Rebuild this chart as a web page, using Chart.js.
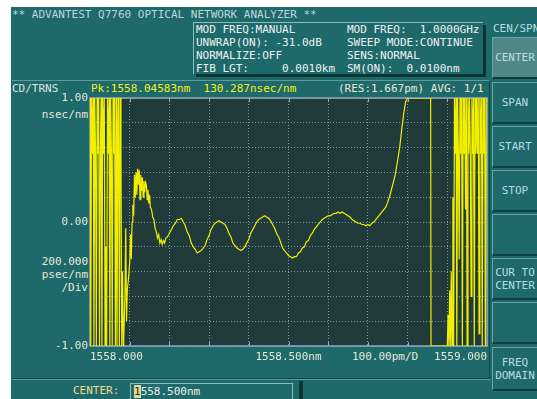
<!DOCTYPE html>
<html><head><meta charset="utf-8">
<script src="https://cdn.jsdelivr.net/npm/chart.js@4.4.1/dist/chart.umd.min.js"></script>
<style>
html,body{margin:0;padding:0;background:#fff;width:537px;height:399px;overflow:hidden;}
body{position:relative;font-family:"DejaVu Sans Mono",monospace;font-size:11px;}
#panel{position:absolute;left:11px;top:7px;width:526px;height:392px;background:#1e6969;}
.t{position:absolute;white-space:pre;line-height:13px;}
#info{position:absolute;left:193px;top:22px;width:289px;height:51px;border-top:1px solid #8cbcbc;border-left:1px solid #8cbcbc;box-shadow:3px 3px 0 #0e3333;}
#frame{position:absolute;left:12px;top:80px;width:477px;height:298px;border-top:1px solid #5c9a9a;border-right:1px solid #0f4444;}
.btn{position:absolute;left:492px;width:45px;border-top:1px solid #6aa5a5;border-left:1px solid #6aa5a5;border-bottom:2px solid #0e3c3c;color:#b8dce0;text-align:center;display:flex;align-items:center;justify-content:center;line-height:13px;white-space:pre;box-sizing:border-box;}
#sep1{position:absolute;left:12px;top:378px;width:478px;height:1px;background:#0f4646;}
#sep2{position:absolute;left:12px;top:379px;width:478px;height:1px;background:#5c9a9a;}
#inbox{position:absolute;left:130px;top:383px;width:163px;height:18px;border:1px solid #8cbcbc;box-sizing:border-box;}
#inshadow{position:absolute;left:299px;top:381px;width:4px;height:18px;background:#0e3333;}
#chart{position:absolute;left:12px;top:88px;}
</style>
</head><body>
<div id="panel"></div>
<div class="t" style="left:12px;top:8px;color:#bcd6dc;">** ADVANTEST Q7760 OPTICAL NETWORK ANALYZER **</div>
<div id="info"></div>
<div class="t" style="left:196px;top:23px;color:#eef2f2;">MOD FREQ:MANUAL
UNWRAP(ON): -31.0dB
NORMALIZE:OFF
FIB LGT:     0.0010km</div>
<div class="t" style="left:347px;top:23px;color:#eef2f2;">MOD FREQ:  1.0000GHz
SWEEP MODE:CONTINUE
SENS:NORMAL
SM(ON):  0.0100nm</div>
<div class="t" style="left:493px;top:22px;color:#b8dce0;">CEN/SPN</div>
<div class="btn" style="top:37px;height:42px;background:#4f8787;">CENTER</div>
<div class="btn" style="top:82px;height:42px;">SPAN</div>
<div class="btn" style="top:126px;height:42px;">START</div>
<div class="btn" style="top:170px;height:42px;">STOP</div>
<div class="btn" style="top:214px;height:42px;"></div>
<div class="btn" style="top:258px;height:42px;">CUR TO
CENTER</div>
<div class="btn" style="top:302px;height:42px;"></div>
<div class="btn" style="top:347px;height:44px;">FREQ
DOMAIN</div>
<div id="frame"></div>
<div class="t" style="left:12px;top:82px;color:#dde4e4;">CD/TRNS</div>
<div class="t" style="left:91px;top:82px;color:#f4f020;">Pk:1558.04583nm  130.287nsec/nm</div>
<div class="t" style="left:338px;top:82px;color:#e8e8d8;">(RES:1.667pm) AVG: 1/1</div>
<div class="t" style="left:0;width:88px;text-align:right;top:108px;color:#e8e8d8;">nsec/nm</div>
<div class="t" style="left:0;width:88px;text-align:right;top:255px;color:#e8e8d8;">200.000
psec/nm
/Div</div>
<div class="t" style="left:352px;top:350px;color:#e8e8d8;">100.00pm/D</div>
<div id="sep1"></div><div id="sep2"></div>
<div class="t" style="left:73px;top:384px;color:#e6dc96;">CENTER:</div>
<div id="inbox"></div><div id="inshadow"></div>
<div class="t" style="left:134px;top:385px;color:#eef2f2;"><span style="background:#e6d890;color:#1e3030;">1</span>558.500nm</div>
<canvas id="chart" width="480" height="287" style="width:480px;height:287px;"></canvas>
<script>
const leftNoiseNm = [
 1558.000,1558.002,1558.004,1558.006,1558.008,1558.010,1558.012,1558.014,1558.016,1558.018,
 1558.020,1558.022,1558.024,1558.026,1558.028,1558.030,1558.032,1558.034,1558.036,1558.038,
 1558.040,1558.042,1558.044,1558.046,1558.048,1558.050,1558.052,1558.054,1558.056,1558.058,
 1558.060,1558.062,1558.064,1558.066,1558.068,1558.070,1558.072,1558.074,1558.076,1558.078,
 1558.080,1558.082,1558.084];
const leftNoiseCd = [
 1.00,-1.00,1.00,0.55,1.00,-1.00,1.00,0.55,-1.00,1.00,
 0.55,1.00,-1.00,0.55,1.00,-1.00,1.00,0.55,1.00,-1.00,
 -0.20,-1.00,1.00,0.55,1.00,-1.00,1.00,0.55,-1.00,1.00,
 0.55,1.00,-1.00,1.00,-1.00,0.55,1.00,-1.00,1.00,0.55,
 -1.00,-0.40,-1.00];
const peakNm = [
 1558.085,1558.088,1558.090,1558.092,1558.094,1558.097,1558.100,1558.102,1558.104,1558.106,
 1558.108,1558.110,1558.112,1558.114,1558.116,1558.118,1558.120,1558.122,1558.124,1558.126,
 1558.128,1558.130,1558.132,1558.134,1558.136,1558.138,1558.140,1558.142,1558.144,1558.146,
 1558.148,1558.150,1558.152,1558.155,1558.158,1558.161,1558.164,1558.167,1558.170,1558.173,
 1558.176,1558.179,1558.182,1558.185,1558.188,1558.191,1558.195];
const peakCd = [
 -0.95,-0.60,-0.05,-0.80,-0.55,-0.45,-0.33,-0.10,-0.30,0.00,
 0.14,0.05,0.38,0.20,0.40,0.22,0.43,0.30,0.42,0.18,
 0.38,0.25,0.36,0.20,0.33,0.24,0.32,0.30,0.18,0.26,
 0.15,0.22,0.12,0.10,0.04,0.02,-0.05,-0.08,-0.13,-0.10,
 -0.17,-0.14,-0.18,-0.15,-0.17,-0.13,-0.12];
const rippleNm = [
 1558.200,1558.205,1558.210,1558.215,1558.220,1558.225,1558.230,1558.235,1558.240,1558.245,
 1558.250,1558.255,1558.260,1558.265,1558.270,1558.275,1558.280,1558.285,1558.290,1558.295,
 1558.300,1558.305,1558.310,1558.315,1558.320,1558.325,1558.330,1558.335,1558.340,1558.345,
 1558.350,1558.355,1558.360,1558.365,1558.370,1558.375,1558.380,1558.385,1558.390,1558.395,
 1558.400,1558.405,1558.410,1558.415,1558.420,1558.425,1558.430,1558.435,1558.440,1558.445,
 1558.450,1558.455,1558.460,1558.465,1558.470,1558.475,1558.480,1558.485,1558.490,1558.495,
 1558.500,1558.505,1558.510,1558.515,1558.520,1558.525,1558.530,1558.535,1558.540,1558.545,
 1558.550,1558.555,1558.560,1558.565,1558.570,1558.575,1558.580,1558.585,1558.590,1558.595,
 1558.600,1558.605,1558.610,1558.615,1558.620,1558.625,1558.630,1558.635,1558.640,1558.645,
 1558.650,1558.655,1558.660,1558.665,1558.670,1558.675,1558.680,1558.685,1558.690,1558.695,
 1558.700,1558.705,1558.710,1558.715,1558.720,1558.725,1558.730,1558.735,1558.740,1558.745,
 1558.750,1558.755,1558.760,1558.765,1558.770,1558.775,1558.780,1558.785,1558.790,1558.795,
 1558.800,1558.810,1558.830,1558.858,1558.859,1558.900];
const rippleCd = [
 -0.09,-0.06,-0.03,-0.01,0.02,0.02,0.03,0.00,-0.03,-0.08,
 -0.11,-0.17,-0.20,-0.22,-0.25,-0.24,-0.23,-0.21,-0.19,-0.14,
 -0.11,-0.06,-0.03,-0.01,0.00,0.01,0.00,-0.01,-0.02,-0.05,
 -0.09,-0.12,-0.17,-0.19,-0.21,-0.22,-0.23,-0.22,-0.20,-0.17,
 -0.14,-0.09,-0.06,-0.03,0.00,0.02,0.03,0.04,0.05,0.04,
 0.03,0.01,-0.02,-0.05,-0.09,-0.12,-0.16,-0.21,-0.23,-0.25,
 -0.27,-0.28,-0.29,-0.28,-0.28,-0.25,-0.24,-0.21,-0.20,-0.16,
 -0.15,-0.11,-0.09,-0.06,-0.04,-0.02,0.00,0.02,0.03,0.04,
 0.05,0.05,0.06,0.07,0.07,0.08,0.07,0.08,0.07,0.06,
 0.05,0.04,0.02,0.01,0.00,-0.01,-0.01,-0.02,-0.02,-0.03,
 -0.02,-0.03,-0.01,0.00,0.02,0.04,0.06,0.08,0.10,0.12,
 0.16,0.21,0.27,0.33,0.40,0.50,0.60,0.74,0.87,0.97,
 1.00,1.00,1.00,1.00,-1.00,-1.00];
const rightNoiseNm = [
 1558.902,1558.904,1558.906,1558.908,1558.910,1558.912,1558.914,1558.916,1558.918,1558.920,
 1558.922,1558.924,1558.926,1558.928,1558.930,1558.932,1558.934,1558.936,1558.938,1558.940,
 1558.942,1558.944,1558.946,1558.948,1558.950,1558.952,1558.954,1558.956,1558.958,1558.960,
 1558.962,1558.964,1558.966,1558.968,1558.970,1558.972,1558.974,1558.976,1558.978,1558.980,
 1558.982,1558.984,1558.986,1558.988,1558.990,1558.992,1558.994,1558.996,1558.998,1559.000];
const rightNoiseCd = [
 -0.75,-1.00,-0.55,-1.00,-0.40,-1.00,0.20,-1.00,1.00,0.55,
 1.00,-1.00,1.00,0.55,-0.30,1.00,0.55,1.00,-1.00,1.00,
 0.55,1.00,0.10,1.00,-1.00,1.00,0.55,1.00,0.55,-0.60,
 1.00,0.55,1.00,-1.00,1.00,0.55,1.00,0.55,1.00,-0.90,
 1.00,0.55,1.00,-1.00,1.00,0.55,1.00,-1.00,1.00,1.00];
const xTickLabels = {"1558.0":"1558.000","1558.5":"1558.500nm","1559.0":"1559.000"};
const yTickLabels = {"1.0":"1.00","0.0":"0.00","-1.0":"-1.00"};

const wavelengthNm = [...leftNoiseNm, ...peakNm, ...rippleNm, ...rightNoiseNm];
const cdNsPerNm = [...leftNoiseCd, ...peakCd, ...rippleCd, ...rightNoiseCd];
const points = wavelengthNm.map((x,i)=>({x, y: cdNsPerNm[i]}));
const axisFont = {family:'"DejaVu Sans Mono", monospace', size:11};

const plotDeco = {
  id:'plotDeco',
  beforeDraw(chart){
    const {ctx, chartArea:a} = chart;
    ctx.save(); ctx.fillStyle='#213b3b';
    ctx.fillRect(a.left,a.top,a.right-a.left,a.bottom-a.top); ctx.restore();
  },
  beforeDatasetsDraw(chart){
    const {ctx, chartArea:a, scales} = chart;
    ctx.save();
    ctx.strokeStyle='#93a9ba'; ctx.lineWidth=1;
    scales.x.ticks.forEach(t=>{
      const px = Math.round(scales.x.getPixelForValue(t.value))+0.5;
      ctx.beginPath(); ctx.moveTo(px,a.bottom); ctx.lineTo(px,a.bottom-4);
      ctx.moveTo(px,a.top); ctx.lineTo(px,a.top+4); ctx.stroke();
    });
    ctx.lineWidth=1.5;
    ctx.strokeRect(a.left,a.top,a.right-a.left,a.bottom-a.top);
    ctx.restore();
  }
};

new Chart(document.getElementById('chart'), {
  type:'line',
  data:{datasets:[{data:points, borderColor:'#f2ee00', borderWidth:1.2, pointRadius:0, tension:0, fill:false}]},
  options:{
    responsive:false, animation:false, events:[],
    layout:{padding:{top:10,right:3,left:0,bottom:0}},
    plugins:{legend:{display:false}, tooltip:{enabled:false}},
    scales:{
      x:{type:'linear', min:1558, max:1559,
        afterFit(s){ s.height = 29; },
        grid:{color:'#7c94a6', lineWidth:1, drawTicks:false},
        border:{display:false, dash:[1,2]},
        ticks:{stepSize:0.1, autoSkip:false, maxRotation:0, align:'inner', padding:5, color:'#e8e8d8', font:axisFont,
          callback:(v)=>xTickLabels[Number(v).toFixed(1)] || ''}
      },
      y:{type:'linear', min:-1, max:1,
        afterFit(s){ s.width = 78; },
        grid:{color:'#7c94a6', lineWidth:1, drawTicks:false},
        border:{display:false, dash:[1,2]},
        ticks:{stepSize:0.2, autoSkip:false, padding:2, color:'#e8e8d8', font:axisFont,
          callback:(v)=>{ const k = (Math.abs(v)<1e-9?0:v).toFixed(1); return yTickLabels[k] || ''; }}
      }
    }
  },
  plugins:[plotDeco]
});
</script>
</body></html>
